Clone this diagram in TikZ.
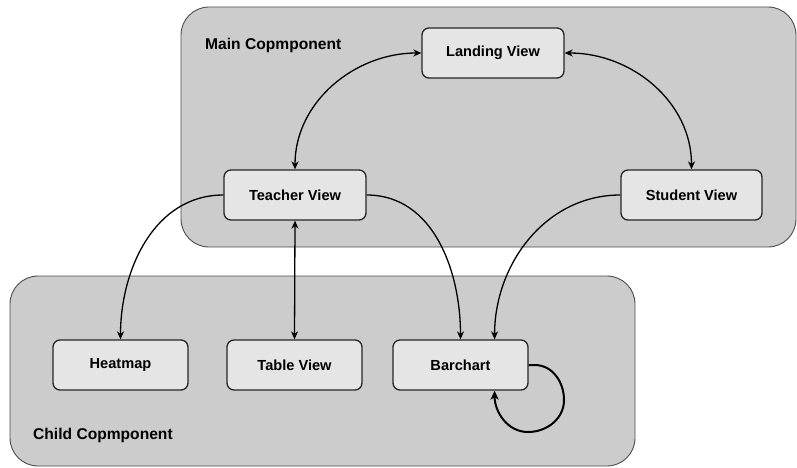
\documentclass[tikz,border=0pt]{standalone}
\usepackage{fontspec}
\setmainfont{Liberation Sans}
\usetikzlibrary{arrows.meta,calc}

\begin{document}
\begin{tikzpicture}[x=1pt,y=-1pt,
  >={Stealth[length=8pt,width=7pt,inset=2.5pt]},
  container/.style={draw=black!70, fill=black!20, rounded corners=28pt, line width=0.9pt, inner sep=0pt},
  viewbox/.style={draw=black!85, fill=black!10, rounded corners=7pt, line width=1.3pt,
    minimum width=135pt, minimum height=50pt, inner sep=0pt,
    font=\bfseries\fontsize{14.6}{16}\selectfont},
  grouplabel/.style={anchor=west, inner sep=0pt, font=\bfseries\fontsize{15.6}{17}\selectfont},
  link/.style={line width=1.3pt, ->},
  twoway/.style={line width=1.3pt, <->},
]
\useasboundingbox (0,0) rectangle (797,468);

% component groups
\node[container, minimum width=615pt, minimum height=240pt] (main) at (488.5,127) {};
\node[container, minimum width=625pt, minimum height=190pt] (child) at (322.5,371) {};
\node[grouplabel] (mainlbl) at (205,45) {Main Copmponent};
\node[grouplabel] (childlbl) at (33,435) {Child Copmponent};

% views
\node[viewbox, minimum width=142pt] (landing) at (493,53) {Landing View};
\node[viewbox, minimum width=142pt] (teacher) at (295,195) {Teacher View};
\node[viewbox, minimum width=141pt] (student) at (691.5,195) {Student View};
\node[viewbox] (heatmap) at (120.5,365) {Heatmap};
\node[viewbox] (table) at (294.5,365) {Table View};
\node[viewbox] (barchart) at (460.5,365) {Barchart};

% ports on the barchart
\coordinate (barTop) at ($(barchart.north)!0.5!(barchart.north east)$);
\coordinate (barBot) at ($(barchart.south)!0.5!(barchart.south east)$);
\coordinate (loopR) at (564,400);
\coordinate (loopB) at (528,432);

% connectors
\draw[twoway] (landing.west) to[out=180,in=90] (teacher.north);
\draw[twoway] (landing.east) to[out=0,in=90] (student.north);
\draw[link] (teacher.west) to[out=180,in=90] (heatmap.north);
\draw[twoway] (teacher.south) -- (table.north);
\draw[link] (teacher.east) to[out=0,in=90] (barchart.north);
\draw[link] (student.west) to[out=180,in=90] (barTop);
\draw[line width=2pt, -{Stealth[length=9pt,width=8pt,inset=2.5pt]}]
  (barchart.east) -- ++(6,0) to[out=0,in=90] (loopR) to[out=-90,in=0] (loopB)
  to[out=180,in=-90] (barBot);
\end{tikzpicture}
\end{document}
